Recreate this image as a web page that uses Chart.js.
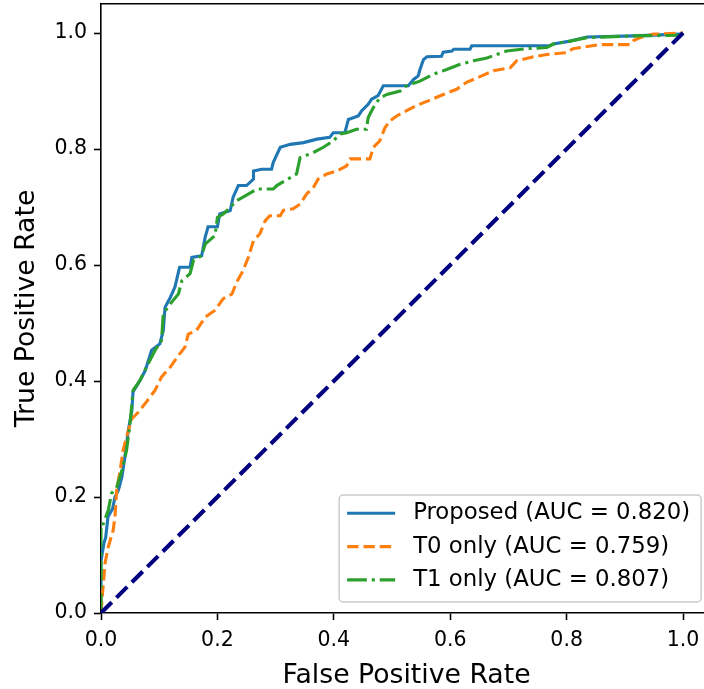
<!DOCTYPE html>
<html>
<head>
<meta charset="utf-8">
<script src="https://cdn.jsdelivr.net/npm/chart.js@4.4.1/dist/chart.umd.min.js"></script>
<style>
  html, body { margin: 0; padding: 0; overflow: hidden; background: #fff; }
  #roc { display: block; }
</style>
</head>
<body>
<canvas id="roc" width="704" height="689"></canvas>
<script>
// axis ticks
const tickValues = [0, 0.2, 0.4, 0.6, 0.8, 1.0];
// the original axes run to 1.05, the picture is cut off a little before that
const xMax = 1.036;
const yMax = 1.05;

// legend text
const seriesLabels = ['Proposed (AUC = 0.820)', 'T0 only (AUC = 0.759)', 'T1 only (AUC = 0.807)'];
const xTitle = 'False Positive Rate';
const yTitle = 'True Positive Rate';

// ROC points (false positive rate / true positive rate)
const proposedFpr = [0, 0, 0.005, 0.008, 0.012, 0.02, 0.024, 0.03, 0.036, 0.041, 0.047, 0.053, 0.055, 0.067, 0.076, 0.087, 0.101, 0.107, 0.11, 0.119, 0.127, 0.135, 0.153, 0.156, 0.173, 0.179, 0.184, 0.2, 0.204, 0.222, 0.227, 0.236, 0.25, 0.262, 0.262, 0.276, 0.293, 0.296, 0.308, 0.325, 0.348, 0.371, 0.393, 0.399, 0.419, 0.425, 0.442, 0.448, 0.459, 0.465, 0.476, 0.485, 0.528, 0.537, 0.545, 0.548, 0.554, 0.56, 0.585, 0.588, 0.603, 0.606, 0.634, 0.637, 0.771, 0.777, 0.806, 0.835, 0.915, 0.995, 1];
const proposedTpr = [0, 0.09, 0.12, 0.13, 0.166, 0.18, 0.2, 0.212, 0.235, 0.269, 0.315, 0.349, 0.381, 0.401, 0.418, 0.453, 0.464, 0.487, 0.527, 0.544, 0.562, 0.596, 0.596, 0.613, 0.616, 0.648, 0.666, 0.666, 0.688, 0.694, 0.717, 0.737, 0.737, 0.748, 0.762, 0.765, 0.765, 0.777, 0.803, 0.808, 0.811, 0.817, 0.82, 0.828, 0.828, 0.851, 0.857, 0.866, 0.877, 0.886, 0.892, 0.909, 0.909, 0.92, 0.926, 0.937, 0.954, 0.959, 0.96, 0.967, 0.969, 0.972, 0.972, 0.978, 0.978, 0.981, 0.986, 0.993, 0.995, 0.998, 1];

const t0Fpr = [0, 0.004, 0.007, 0.0125, 0.021, 0.024, 0.027, 0.033, 0.038, 0.047, 0.053, 0.064, 0.078, 0.093, 0.104, 0.119, 0.133, 0.144, 0.15, 0.164, 0.179, 0.196, 0.21, 0.225, 0.233, 0.244, 0.253, 0.262, 0.273, 0.282, 0.29, 0.308, 0.313, 0.33, 0.342, 0.353, 0.365, 0.373, 0.388, 0.405, 0.422, 0.428, 0.462, 0.468, 0.479, 0.488, 0.497, 0.508, 0.519, 0.54, 0.562, 0.588, 0.611, 0.628, 0.654, 0.674, 0.703, 0.714, 0.743, 0.766, 0.8, 0.811, 0.857, 0.909, 0.915, 0.926, 0.949, 1];
const t0Tpr = [0, 0.051, 0.086, 0.114, 0.143, 0.166, 0.212, 0.246, 0.281, 0.315, 0.335, 0.346, 0.364, 0.384, 0.407, 0.424, 0.444, 0.458, 0.481, 0.487, 0.51, 0.522, 0.542, 0.55, 0.57, 0.59, 0.613, 0.642, 0.654, 0.676, 0.685, 0.685, 0.694, 0.697, 0.705, 0.722, 0.734, 0.748, 0.757, 0.762, 0.771, 0.783, 0.783, 0.803, 0.814, 0.837, 0.849, 0.857, 0.863, 0.874, 0.883, 0.894, 0.903, 0.915, 0.926, 0.935, 0.94, 0.952, 0.959, 0.963, 0.966, 0.973, 0.98, 0.98, 0.987, 0.992, 0.998, 1];

const t1Fpr = [0, 0, 0.004, 0.0125, 0.018, 0.027, 0.036, 0.044, 0.05, 0.055, 0.067, 0.078, 0.093, 0.104, 0.107, 0.119, 0.133, 0.139, 0.153, 0.159, 0.173, 0.179, 0.196, 0.2, 0.21, 0.222, 0.233, 0.244, 0.268, 0.296, 0.302, 0.336, 0.342, 0.365, 0.382, 0.399, 0.411, 0.422, 0.439, 0.456, 0.459, 0.465, 0.471, 0.479, 0.491, 0.514, 0.525, 0.548, 0.571, 0.594, 0.617, 0.64, 0.663, 0.697, 0.731, 0.766, 0.777, 0.811, 0.835, 0.915, 0.995, 1];
const t1Tpr = [0, 0.154, 0.154, 0.177, 0.206, 0.217, 0.246, 0.281, 0.327, 0.384, 0.401, 0.424, 0.453, 0.47, 0.516, 0.533, 0.55, 0.573, 0.585, 0.608, 0.616, 0.636, 0.651, 0.682, 0.688, 0.699, 0.711, 0.717, 0.731, 0.731, 0.737, 0.757, 0.785, 0.794, 0.803, 0.814, 0.826, 0.828, 0.834, 0.834, 0.854, 0.866, 0.877, 0.888, 0.894, 0.9, 0.909, 0.917, 0.929, 0.937, 0.946, 0.952, 0.957, 0.969, 0.973, 0.975, 0.981, 0.987, 0.992, 0.995, 0.996, 1];

const chanceFpr = [0, 1];
const chanceTpr = [0, 1];

function toPoints(xs, ys) {
    return xs.map((x, i) => ({ x: x, y: ys[i] }));
}

Chart.defaults.font.family = '"DejaVu Sans", sans-serif';
Chart.defaults.color = '#000';

// datasets: first index is drawn on top in Chart.js
const datasets = [
    { label: 'chance', data: toPoints(chanceFpr, chanceTpr), borderColor: '#000080', borderWidth: 4.1, borderDash: [15.2, 6.6] },
    { label: seriesLabels[2], data: toPoints(t1Fpr, t1Tpr), borderColor: '#2ca02c', borderWidth: 3.1, borderDash: [19.7, 4.9, 3.1, 4.9] },
    { label: seriesLabels[1], data: toPoints(t0Fpr, t0Tpr), borderColor: '#ff7f0e', borderWidth: 3.1, borderDash: [11.4, 4.9] },
    { label: seriesLabels[0], data: toPoints(proposedFpr, proposedTpr), borderColor: '#1f77b4', borderWidth: 3.1, borderDash: [] }
];
datasets.forEach(ds => {
    ds.pointRadius = 0;
    ds.fill = false;
    ds.tension = 0;
});

// matplotlib style legend in the lower right corner, plus the x title
// centred on the full (0 .. 1.05) axes like the original
const legendPlugin = {
    id: 'innerLegend',
    afterDraw(chart) {
        const { ctx, chartArea: a } = chart;
        const xs = chart.scales.x;
        ctx.save();
        // the original has no right spine in view, keep the cut edge clean
        ctx.fillStyle = '#fff';
        ctx.fillRect(chart.width - 3, a.top + 1.5, 3, a.bottom - a.top - 3);

        ctx.beginPath();
        ctx.font = '26.7px "DejaVu Sans"';
        ctx.fillStyle = '#000';
        ctx.textAlign = 'center';
        ctx.textBaseline = 'middle';
        ctx.fillText(xTitle, xs.getPixelForValue(0.525), chart.height - 13.4);

        const boxW = 362, boxH = 107;
        const right = xs.getPixelForValue(1.05) - 11, bottom = a.bottom - 11;
        const left = right - boxW, top = bottom - boxH;
        ctx.beginPath();
        ctx.roundRect(left, top, boxW, boxH, 4);
        ctx.fillStyle = 'rgba(255,255,255,0.8)';
        ctx.fill();
        ctx.lineWidth = 1.5;
        ctx.strokeStyle = '#cccccc';
        ctx.stroke();

        const order = [3, 2, 1];
        ctx.font = '22.8px "DejaVu Sans"';
        ctx.textAlign = 'left';
        order.forEach((idx, i) => {
            const ds = chart.data.datasets[idx];
            const y = top + 18.3 + i * 33.3;
            ctx.beginPath();
            ctx.setLineDash(ds.borderDash);
            ctx.lineCap = 'butt';
            ctx.strokeStyle = ds.borderColor;
            ctx.lineWidth = ds.borderWidth;
            ctx.moveTo(left + 8, y);
            ctx.lineTo(left + 56, y);
            ctx.stroke();
            ctx.setLineDash([]);
            ctx.fillStyle = '#000';
            ctx.fillText(ds.label, left + 74, y);
        });
        ctx.beginPath();
        ctx.restore();
    }
};

function axisTicks(scale) {
    scale.ticks = tickValues.map(v => ({ value: v }));
}

new Chart(document.getElementById('roc'), {
    type: 'line',
    data: { datasets: datasets },
    options: {
        responsive: false,
        animation: false,
        layout: { padding: { top: 4, right: 0, bottom: 0, left: 0 } },
        plugins: { legend: { display: false }, tooltip: { enabled: false } },
        scales: {
            x: {
                type: 'linear',
                min: 0,
                max: xMax,
                afterBuildTicks: axisTicks,
                afterFit: s => { s.height = 76; s.paddingLeft = 0; s.paddingRight = 0; },
                border: { display: true, color: '#000', width: 1.6 },
                grid: { drawOnChartArea: false, drawTicks: true, tickLength: 7, tickColor: '#000', tickWidth: 1.6, color: '#000' },
                ticks: { autoSkip: false, maxRotation: 0, padding: 8, font: { size: 20.5 }, color: '#000', callback: v => v.toFixed(1) }
            },
            // top spine only
            x2: {
                type: 'linear',
                axis: 'x',
                position: 'top',
                min: 0,
                max: xMax,
                afterFit: s => { s.height = 0; s.paddingLeft = 0; s.paddingRight = 0; },
                border: { display: true, color: '#000', width: 1.6 },
                grid: { display: false },
                ticks: { display: false }
            },
            y: {
                type: 'linear',
                min: 0,
                max: yMax,
                afterBuildTicks: axisTicks,
                afterFit: s => { s.width = 101; s.paddingTop = 0; s.paddingBottom = 0; },
                border: { display: true, color: '#000', width: 1.6 },
                grid: { drawOnChartArea: false, drawTicks: true, tickLength: 7, tickColor: '#000', tickWidth: 1.6, color: '#000' },
                ticks: { autoSkip: false, padding: 7, font: { size: 20.5 }, color: '#000', callback: v => v.toFixed(1) },
                title: { display: true, text: yTitle, font: { size: 26.7, lineHeight: 1 }, color: '#000', padding: { top: 14, bottom: 0 } }
            }
        }
    },
    plugins: [legendPlugin]
});
</script>
</body>
</html>
